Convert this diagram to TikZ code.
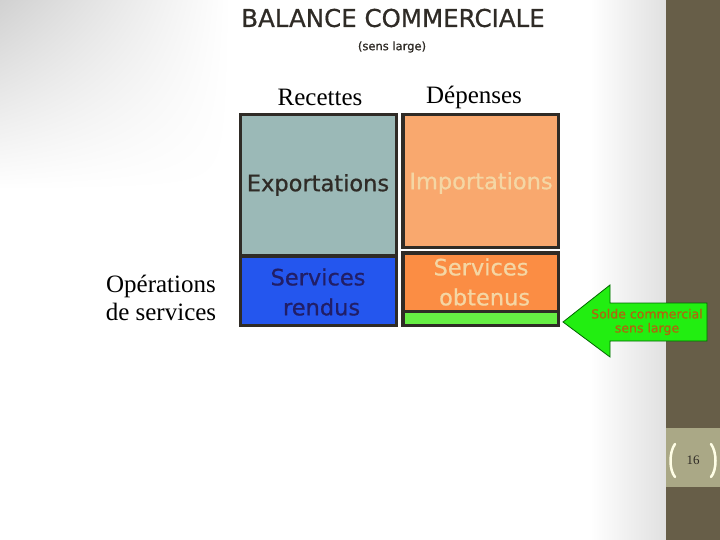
\documentclass[tikz,border=0pt]{standalone}
\usepackage{fontspec}
\setmainfont{Liberation Serif}
\newfontfamily\comicfont[FakeBold=0.7]{DejaVu Sans}
\usepackage{xcolor}
\usetikzlibrary{shadings}
\definecolor{boxline}{HTML}{2F2B26}
\definecolor{expofill}{HTML}{9BB9B7}
\definecolor{rendfill}{HTML}{2456EE}
\definecolor{impofill}{HTML}{F9A86E}
\definecolor{obtfill}{HTML}{FB8D44}
\definecolor{soldefill}{HTML}{66EE44}
\definecolor{arrowfill}{HTML}{22EE11}
\definecolor{creamtext}{HTML}{F4D6A4}
\definecolor{soldetext}{HTML}{B0650E}
\definecolor{sidebar}{HTML}{675E48}
\definecolor{numbox}{HTML}{AAA886}

\begin{document}
\begin{tikzpicture}[x=1pt, y=-1pt,
  box/.style={draw=boxline, line width=3.5pt},
  comic/.style={font=\comicfont\fontsize{22.5}{30}\selectfont, align=center, inner sep=0pt},
  serif/.style={font=\fontsize{25}{28}\selectfont, align=center, inner sep=0pt}]
\useasboundingbox (0,0) rectangle (720,540);

% background
\fill[white] (0,0) rectangle (720,540);
\shade[upper left=black!18, upper right=white, lower left=white, lower right=white] (0,0) rectangle (230,190);
\shade[left color=white, right color=black!12] (590,0) rectangle (666,540);
\fill[sidebar] (666,0) rectangle (720,540);
\fill[numbox] (666,428) rectangle (720,487);

% slide number
\node[font=\fontsize{13}{15}\selectfont, text=boxline] (num) at (693,460) {16};
\draw[white!90!yellow, line width=2.5pt, line cap=round] (675,444) .. controls (669,452) and (669,470) .. (675,477);
\draw[white!90!yellow, line width=2.5pt, line cap=round] (711,444) .. controls (717,452) and (717,470) .. (711,477);

% titles
\node[font=\comicfont\fontsize{24.5}{26}\selectfont, text=boxline] (title) at (393,18) {BALANCE COMMERCIALE};
\node[font=\comicfont\fontsize{11.5}{13}\selectfont, text=boxline] (sous) at (392,47) {(sens large)};
\node[serif] (rec) at (320,97) {Recettes};
\node[serif] (dep) at (474,97) {Dépenses};
\node[serif] (ops) at (161,298) {Opérations\\de services};

% draw the boxes
\draw[box, fill=expofill] (240.5,114.5) rectangle (396.5,256);
\draw[box, fill=rendfill] (240.5,256) rectangle (396.5,325.5);
\draw[box, fill=impofill] (403,114.5) rectangle (558.5,247.5);
\draw[box, fill=obtfill] (403,253) rectangle (558.5,311.5);
\draw[box, fill=soldefill] (403,311.5) rectangle (558.5,325.5);

% box texts
\node[comic, text=boxline] (expo) at (318,185) {Exportations};
\node[comic, text=creamtext] (impo) at (481,183) {Importations};
\node[comic, text=boxline!70!blue] (rendus) at (318,292) {Services\\\ rendus};
\node[comic, text=creamtext] (obtenus) at (481,282) {Services\\\ obtenus};

% arrow
\node[coordinate] (tip) at (563,322) {};
\node[coordinate] (ht) at (610,285) {};
\node[coordinate] (hb) at (610,357) {};
\node[coordinate] (st) at (610,303) {};
\node[coordinate] (sb) at (610,341) {};
\node[coordinate] (et) at (707,303) {};
\node[coordinate] (eb) at (707,341) {};
\draw[fill=arrowfill, draw=green!40!black, line width=0.8pt] (tip)--(ht)--(st)--(et)--(eb)--(sb)--(hb)--cycle;
\node[font=\comicfont\fontsize{12.5}{14}\selectfont, text=soldetext, align=center, inner sep=0pt] (solde) at (647,322) {Solde commercial\\sens large};

\end{tikzpicture}
\end{document}
